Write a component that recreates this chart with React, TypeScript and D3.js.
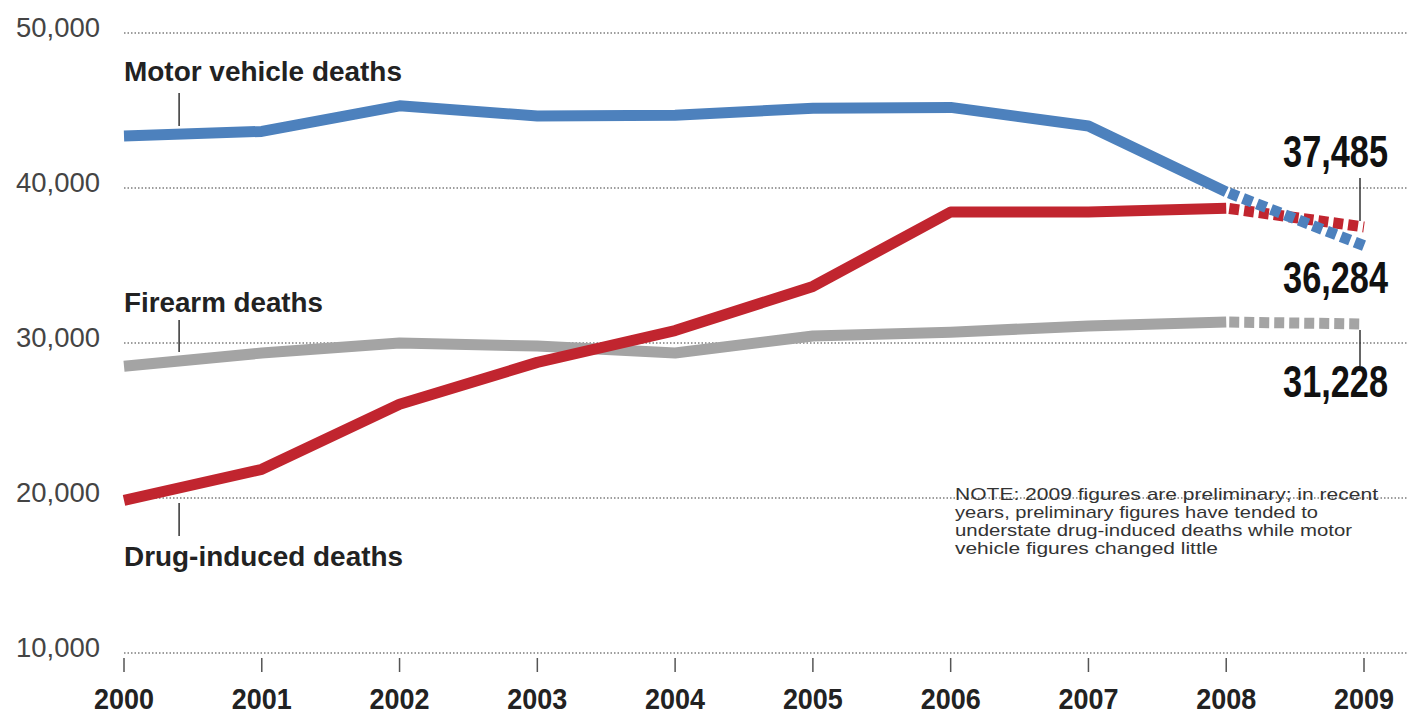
import React from "react";
import * as d3 from "d3";

const years = [2000, 2001, 2002, 2003, 2004, 2005, 2006, 2007, 2008, 2009];
const motorVehicle = [43350, 43650, 45300, 44650, 44700, 45150, 45200, 44000, 39750, 36284];
const drugInduced = [19850, 21850, 26050, 28750, 30800, 33650, 38450, 38450, 38700, 37485];
const firearm = [28500, 29350, 30000, 29800, 29350, 30450, 30700, 31100, 31350, 31228];
const yTicks = [10000, 20000, 30000, 40000, 50000];
const noteLines = [
  "NOTE: 2009 figures are preliminary; in recent",
  "years, preliminary figures have tended to",
  "understate drug-induced deaths while motor",
  "vehicle figures changed little",
];
const noteWidths = [423, 363, 397, 263];

const W = 1408;
const H = 718;

export default function App() {
  const x = d3.scaleLinear().domain([2000, 2009]).range([124, 1364]);
  const y = d3.scaleLinear().domain([10000, 50000]).range([653, 33]);
  const fmt = d3.format(",");
  const line = d3
    .line<[number, number]>()
    .x((d) => x(d[0]))
    .y((d) => y(d[1]));

  const series = [
    { name: "Firearm deaths", values: firearm, color: "#a4a4a4" },
    { name: "Drug-induced deaths", values: drugInduced, color: "#c1252f" },
    { name: "Motor vehicle deaths", values: motorVehicle, color: "#4d81bd" },
  ];

  const lastIdx = years.length - 1;
  const sans = "'Liberation Sans', Arial, Helvetica, sans-serif";
  const lx = x(2000.4);
  const rx = x(2009) - 4;

  const endLabels = [
    { v: drugInduced[lastIdx], y: 167 },
    { v: motorVehicle[lastIdx], y: 293 },
    { v: firearm[lastIdx], y: 397 },
  ];

  return (
    <svg
      width={W}
      height={H}
      style={{ position: "absolute", left: 0, top: 0, background: "#fff" }}
    >
      {/* grid */}
      {yTicks.map((t) => (
        <g key={t}>
          <line
            x1={x(2000)}
            x2={W}
            y1={y(t)}
            y2={y(t)}
            stroke="#9d9d9d"
            strokeWidth={2}
            strokeDasharray="1.5 2"
          />
          <text
            x={100}
            y={y(t) - 3}
            textAnchor="end"
            dominantBaseline="middle"
            fontFamily={sans}
            fontSize={27}
            fill="#444"
            textLength={84}
            lengthAdjust="spacingAndGlyphs"
          >
            {fmt(t)}
          </text>
        </g>
      ))}
      {/* x ticks */}
      {years.map((yr) => (
        <g key={yr}>
          <line x1={x(yr)} x2={x(yr)} y1={658} y2={672} stroke="#555" strokeWidth={1.5} />
          <text
            x={x(yr) - 30}
            y={709}
            fontFamily={sans}
            fontWeight="bold"
            fontSize={30}
            fill="#222"
            textLength={60}
            lengthAdjust="spacingAndGlyphs"
          >
            {yr}
          </text>
        </g>
      ))}

      {/* leaders */}
      <line x1={lx} x2={lx} y1={93} y2={126} stroke="#333" strokeWidth={1.5} />
      <line x1={lx} x2={lx} y1={320} y2={352} stroke="#333" strokeWidth={1.5} />
      <line x1={lx} x2={lx} y1={503} y2={536} stroke="#333" strokeWidth={1.5} />
      <line x1={rx} x2={rx} y1={178} y2={y(drugInduced[lastIdx]) - 6} stroke="#333" strokeWidth={1.5} />
      <line x1={rx} x2={rx} y1={y(firearm[lastIdx]) + 6} y2={366} stroke="#333" strokeWidth={1.5} />

      {/* lines */}
      {series.map((s) => {
        const solid: [number, number][] = years
          .slice(0, lastIdx)
          .map((yr, i) => [yr, s.values[i]]);
        const dashed: [number, number][] = [
          [years[lastIdx - 1], s.values[lastIdx - 1]],
          [years[lastIdx], s.values[lastIdx]],
        ];
        return (
          <g key={s.name}>
            <path
              d={line(solid) || ""}
              fill="none"
              stroke={s.color}
              strokeWidth={11}
              strokeLinejoin="round"
            />
            <path
              d={line(dashed) || ""}
              fill="none"
              stroke={s.color}
              strokeWidth={11}
              strokeDasharray="10 5"
              strokeDashoffset={-3}
            />
          </g>
        );
      })}

      {/* series labels */}
      <text x={124} y={81} fontFamily={sans} fontWeight="bold" fontSize={27} fill="#222" textLength={278} lengthAdjust="spacingAndGlyphs">
        Motor vehicle deaths
      </text>
      <text x={124} y={312} fontFamily={sans} fontWeight="bold" fontSize={27} fill="#222" textLength={199} lengthAdjust="spacingAndGlyphs">
        Firearm deaths
      </text>
      <text x={124} y={566} fontFamily={sans} fontWeight="bold" fontSize={27} fill="#222" textLength={279} lengthAdjust="spacingAndGlyphs">
        Drug-induced deaths
      </text>

      {/* end values */}
      {endLabels.map((d, i) => (
        <text
          key={i}
          transform={`translate(1388,${d.y}) scale(0.78,1)`}
          textAnchor="end"
          fontFamily={sans}
          fontWeight="bold"
          fontSize={44}
          fill="#111"
        >
          {fmt(d.v)}
        </text>
      ))}

      {/* note */}
      {noteLines.map((l, i) => (
        <text
          key={i}
          x={955}
          y={500 + i * 18}
          fontFamily={sans}
          fontSize={17}
          fill="#333"
          textLength={noteWidths[i]}
          lengthAdjust="spacingAndGlyphs"
        >
          {l}
        </text>
      ))}
    </svg>
  );
}
